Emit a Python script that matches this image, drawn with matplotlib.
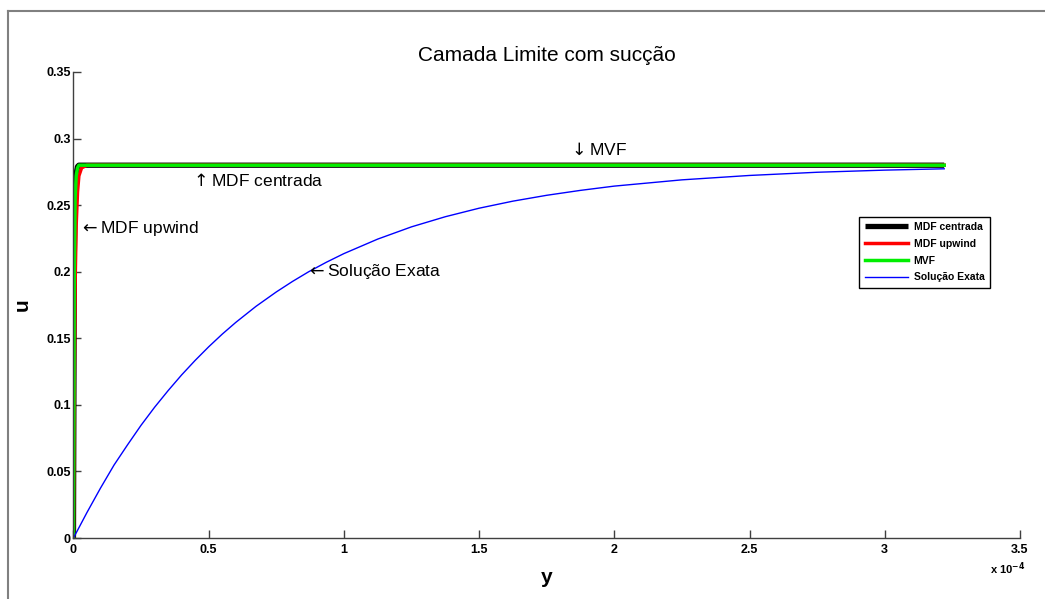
import matplotlib
matplotlib.use("Agg")
import matplotlib.pyplot as plt
from matplotlib.lines import Line2D

plt.rcParams['font.family'] = ['Liberation Sans', 'DejaVu Sans']

# y values in units of 1e-4
y_num = [0, 0.003, 0.006, 0.01, 0.015, 0.02, 0.03, 0.05, 3.22]
u_centrada = [0, 0.21, 0.258, 0.274, 0.279, 0.28, 0.28, 0.28, 0.28]
u_upwind = [0, 0.12, 0.19, 0.235, 0.26, 0.272, 0.278, 0.28, 0.28]
u_mvf = [0, 0.20, 0.255, 0.272, 0.278, 0.28, 0.28, 0.28, 0.28]

y_exata = [0, 0.05, 0.1, 0.15, 0.2, 0.25, 0.3, 0.35, 0.4, 0.45, 0.5, 0.55,
           0.6, 0.675, 0.75, 0.81, 0.87, 0.935, 1.0, 1.125, 1.25, 1.375, 1.5,
           1.625, 1.75, 1.875, 2.0, 2.25, 2.5, 2.75, 3.0, 3.22]
u_exata = [0, 0.0192, 0.0375, 0.0548, 0.0700, 0.0847, 0.0982, 0.1107, 0.1225,
           0.1334, 0.1436, 0.1531, 0.1619, 0.1740, 0.1848, 0.1927, 0.2000,
           0.2071, 0.2136, 0.2245, 0.2337, 0.2413, 0.2477, 0.2530, 0.2574,
           0.2611, 0.2643, 0.2690, 0.2723, 0.2747, 0.2763, 0.2773]

xticks = [0, 0.5, 1, 1.5, 2, 2.5, 3, 3.5]
xticklabels = ['0', '0.5', '1', '1.5', '2', '2.5', '3', '3.5']
yticks = [0, 0.05, 0.1, 0.15, 0.2, 0.25, 0.3, 0.35]
yticklabels = ['0', '0.05', '0.1', '0.15', '0.2', '0.25', '0.3', '0.35']

fig = plt.figure(figsize=(10.45, 5.99), dpi=100)
ax = fig.add_axes([0.0703, 0.1018, 0.9057, 0.778])

ax.plot(y_num, u_centrada, color='black', lw=3.8, label='MDF centrada', solid_capstyle='butt')
ax.plot(y_num, u_upwind, color='red', lw=2.5, label='MDF upwind')
ax.plot(y_num, u_mvf, color='#00ee00', lw=2.5, label='MVF')
ax.plot(y_exata, u_exata, color='blue', lw=1.0, label='Solução Exata')

ax.set_xlim(0, 3.5)
ax.set_ylim(0, 0.35)
ax.set_xticks(xticks)
ax.set_xticklabels(xticklabels)
ax.set_yticks(yticks)
ax.set_yticklabels(yticklabels)
for lab in ax.get_xticklabels() + ax.get_yticklabels():
    lab.set_fontweight('bold')
    lab.set_fontsize(9)
ax.tick_params(direction='in', length=6, width=1, color='#404040')
ax.tick_params(axis='y', pad=2)
ax.tick_params(axis='x', pad=4)
ax.spines['top'].set_visible(False)
ax.spines['right'].set_visible(False)
for s in ('left', 'bottom'):
    ax.spines[s].set_color('#404040')
    ax.spines[s].set_linewidth(1.0)

ax.set_title('Camada Limite com sucção', fontsize=15, pad=8)
ax.set_xlabel('y', fontsize=15, fontweight='bold')
ax.set_ylabel('u', fontsize=15, fontweight='bold')
ax.xaxis.set_label_coords(0.5, -0.064)
ax.yaxis.set_label_coords(-0.044, 0.5)

fig.text(0.947, 0.043, r'x 10$^{\mathbf{-4}}$', fontsize=8, fontweight='bold')

ax.text(0.43, 0.2685, r'$\uparrow$MDF centrada', fontsize=12.5, va='center', ha='left')
ax.text(0.02, 0.2325, r'$\leftarrow$MDF upwind', fontsize=12.5, va='center', ha='left')
ax.text(0.86, 0.2005, r'$\leftarrow$Solução Exata', fontsize=12.5, va='center', ha='left')
ax.text(1.83, 0.2915, r'$\downarrow$MVF', fontsize=12.5, va='center', ha='left')

leg = ax.legend(loc='upper left', bbox_to_anchor=(0.8305, 0.689), prop={'weight': 'bold', 'size': 7.5},
                frameon=True, fancybox=False, edgecolor='black', framealpha=1,
                handlelength=4.2, borderpad=0.5, labelspacing=0.65, handletextpad=0.5,
                borderaxespad=0)
leg.get_frame().set_linewidth(1.0)

# outer figure border (partially visible)
fig.add_artist(Line2D([8/1045, 8/1045], [0, 1 - 11/599], transform=fig.transFigure, color='#808080', lw=1.5))
fig.add_artist(Line2D([8/1045, 1], [1 - 11/599, 1 - 11/599], transform=fig.transFigure, color='#808080', lw=1.5))

fig.savefig('out.png', dpi=100)
